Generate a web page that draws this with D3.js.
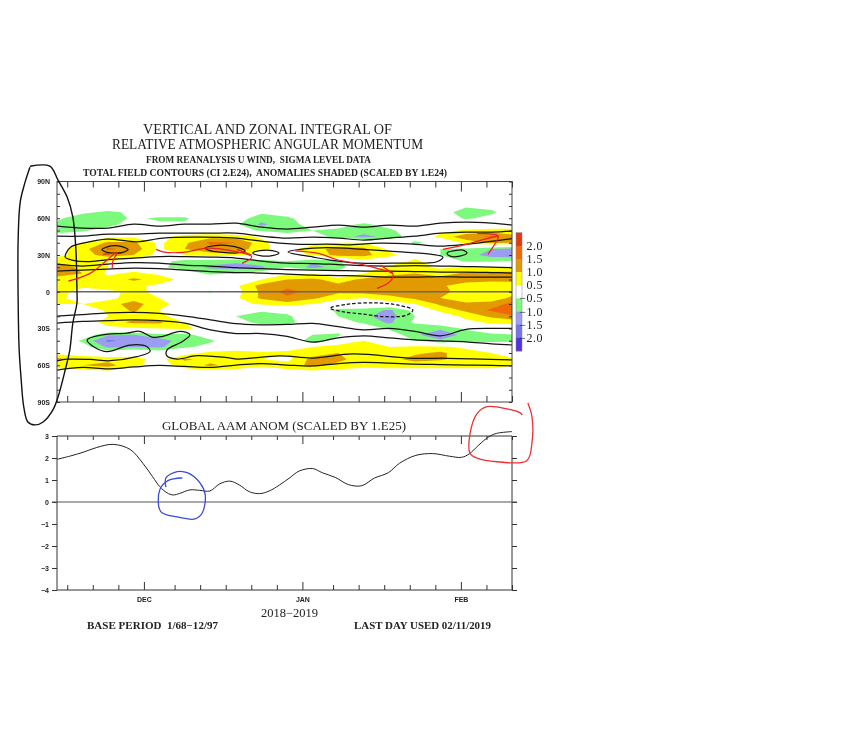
<!DOCTYPE html>
<html><head><meta charset="utf-8">
<script src="https://cdn.jsdelivr.net/npm/d3@7"></script>
<style>html,body{margin:0;background:#fff}svg{display:block;filter:blur(.35px)}
text{fill:#222}</style></head><body><svg id="c" width="864" height="750"></svg>
<script>
// ---------- data ----------
const startDate = "Nov 14 2018"; // day 0; the axis runs for 89 days
const minorDays = [2,7,12,23,28,33,38,43,54,59,64,69,74,84,89];
const majorDays = [17,48,79];
const monthLabels = ["DEC","JAN","FEB"];
const latMinor = [80,70,50,40,20,10,-10,-20,-40,-50,-70,-80];
const latMajor = [90,60,30,0,-30,-60,-90];
const latLabels = ["90N","60N","30N","0","30S","60S","90S"];
const aamTicks = [3,2,1,0,-1,-2,-3,-4];
const aamDays = [0,2.6,5.1,7.8,11,14.3,16.8,18.7,20.1,21.5,22.7,24,26,27.9,29.9,31.8,33.8,35.7,37.6,39.6,41.5,43.5,45.4,47.4,50,51.9,54.5,57,59.6,62.1,64.8,67,70.2,73.5,76.8,79.1,80.6,82.5,84.5,86,89];
const aamValues = [1.94,2.09,2.26,2.48,2.62,2.39,1.76,1.15,0.70,0.42,0.32,0.39,0.55,0.53,0.50,0.82,0.95,0.77,0.47,0.38,0.50,0.77,1.08,1.41,1.52,1.33,1.11,0.79,0.74,1.09,1.33,1.76,2.12,2.20,2.08,2.03,2.18,2.59,2.97,3.12,3.20];

// anomalies in tenths of 1.E24; rows every 5 deg from 70N to 70S, columns every 5 days from day 0 to day 90
const anomLatStart = 70, anomLatStep = 5, anomDayStep = 5;
const anomRows = [
[0,0,0,0,0,0,0,0,0,0,0,0,0,0,0,0,-4,-3,0],
[-1,-4,-6,-4,0,0,0,0,-4,-2,0,0,0,0,0,-2,-8,-6,-1],
[-4,-8,-8,-4,-6,-6,0,-2,-8,-6,-2,0,0,0,0,0,-6,-3,0],
[-6,-8,-7,-2,-4,-4,-1,-4,-11,-7,-3,-3,-6,-3,0,0,0,0,0],
[-7,-6,-2,0,0,0,0,-2,-6,-7,-5,-6,-7,-6,-2,3,6,7,7],
[-2,1,4,4,3,7,8,8,4,-2,-2,-7,-12,-8,-2,7,13,16,11],
[1,5,11,11,4,9,16,15,7,0,3,5,5,0,-6,-3,7,11,10],
[3,8,16,13,4,10,13,14,6,3,8,12,11,4,-3,-5,-6,-10,-12],
[3,8,12,10,3,5,8,7,2,1,6,12,12,6,3,-5,-8,-12,-14],
[9,8,5,2,-3,-7,-8,-9,-7,-5,-9,-6,3,2,6,2,-6,-6,-4],
[12,9,5,2,-4,-7,-11,-12,-11,-5,-12,-8,2,6,7,4,6,5,4],
[13,10,4,6,4,-2,-6,-5,-2,4,5,-2,5,9,10,8,11,12,12],
[7,8,7,11,8,3,0,1,5,10,11,8,11,12,15,12,13,12,12],
[7,6,7,6,4,0,0,4,12,13,13,11,12,12,12,11,7,6,7],
[7,3,4,6,4,-1,-6,3,11,17,13,11,12,13,13,12,7,8,9],
[7,1,3,8,5,1,0,4,11,14,11,7,5,8,11,10,7,7,12],
[5,5,8,12,7,2,0,3,6,8,5,0,1,2,5,11,11,12,18],
[0,1,6,11,5,0,0,-3,-4,-3,-1,-6,-7,-11,-3,7,11,16,20],
[0,2,5,8,6,3,0,-5,-8,-6,-1,-5,-9,-12,-5,0,7,11,15],
[0,0,8,11,11,5,1,-2,-7,-7,-1,-2,-6,-11,-4,-1,3,6,7],
[0,0,3,4,5,6,3,0,0,0,-1,0,-1,-6,-9,-9,-4,0,1],
[-2,-1,-9,-10,-6,-7,-1,4,1,-1,-5,-6,2,-1,-9,-14,-8,-6,-5],
[0,-6,-16,-13,-13,-7,-6,0,0,0,-8,-2,5,2,-5,-9,-7,-7,-6],
[0,-2,-11,-10,-11,-6,-3,0,0,3,5,9,7,5,6,6,4,2,0],
[3,3,-1,2,-1,2,7,8,6,6,7,10,7,9,9,11,7,5,4],
[12,7,8,7,3,11,8,6,5,3,12,11,8,8,12,11,7,10,5],
[7,10,12,6,3,7,11,8,6,8,11,9,7,7,7,6,6,7,5],
[3,3,4,2,2,3,3,3,2,3,4,3,2,3,3,4,4,3,2],
[0,0,0,0,0,0,0,0,0,0,0,0,0,0,0,0,0,0,0]
];
const posLevels = [0.5,1,1.5,2];
const posColors = ["#ffff00","#e19a00","#ef6a05","#e23a10"];
const negColors = ["#7dfa7d","#9c9cf0","#7474ee","#5232e2"];
const legendColors = ["#e23a10","#ef6a05","#e19a00","#ffff00","#ffffff","#7dfa7d","#9c9cf0","#7474ee","#5232e2"];
const legendLabels = ["2.0","1.5","1.0","0.5","\u22120.5","\u22121.0","\u22121.5","\u22122.0"];

// total-field contours: latitude sampled every 5 days (last sample on day 89)
const lineDays = [0,5,10,15,20,25,30,35,40,45,50,55,60,65,70,75,80,85,89];
const lineN1 = [53.6,52,52,55.2,53.6,55.2,55.2,56,52.8,51.2,52.8,54.4,52.8,54.4,53.6,56,56.9,56,54.4];
const lineN2 = [45.4,45.4,47,47,47.8,47.8,47.8,47.8,45.4,43.8,44.6,43.8,42.2,43.8,45.4,47.8,48.7,48.7,49.5];
const lineG2 = [22.6,21,22.6,23.8,23.4,21.8,21,19.7,18.9,18.1,17.7,17.3,16.9,16.9,16.5,16.1,16.1,15.7,15.3];
const lineG3 = [16.9,17.7,18.5,19.3,18.9,17.7,16.5,15.7,15.3,14.4,13.6,13.2,12.8,12,12,12.4,12,12,12];
const lineS1 = [-19.9,-18.6,-17.2,-16.8,-17.7,-19.9,-22.9,-26.1,-27,-26.7,-25.8,-28.5,-31.1,-29.9,-32.3,-36,-30.7,-29.9,-29.9];
const lineS2 = [-25.6,-24.2,-23.6,-23,-23.6,-25.6,-31.2,-34.1,-34.1,-36.4,-41.1,-37.6,-36,-37.6,-39.3,-40.1,-40.9,-42.5,-43.3];
const lineS4 = [-63.9,-61.8,-63,-61.4,-60.2,-61,-61.7,-59.8,-58.6,-59.8,-60.6,-58.6,-57.7,-58.2,-59,-59.4,-59.8,-60.2,-60.6];
// contours that fold back: [day, lat]
const pathU = [[89,43.4],[80.2,38.9],[74.9,37.3],[69.6,38.9],[63.2,39.7],[56.7,38.3],[52.8,38.9],[47.5,38.7],[41.1,40.8],[34.4,44],[26.6,44.6],[20.7,43.8],[15.6,40.8],[9.8,43],[5.1,39.7],[2.7,36.5],[1.6,28.3],[2.9,25.9],[5.9,24.5],[10,26.3],[15,27.5],[20,28.7],[25,28.7],[30,28.3],[35,27.5],[40,25],[45,23.4],[50,23],[55,22.2],[60,21.4],[65,21],[70,21.4],[75,21],[80,20.6],[85,20.1],[89,19.7]];
const pathS3 = [[0,-56.5],[2,-55.1],[6.5,-55.3],[10.4,-56.3],[15.6,-53],[18.2,-48.9],[17.6,-44.9],[14.3,-43.5],[9.8,-48.9],[7.4,-45.5],[5.9,-39.4],[8.4,-35.6],[13.7,-33.7],[16.2,-32.3],[18.8,-37.2],[20.7,-36.4],[24.1,-32.3],[26,-35.1],[24.6,-40.5],[21.5,-47.6],[21.5,-52.4],[23.5,-54.9],[27.4,-52.2],[33.3,-53.8],[35.4,-54.9],[43.6,-52.4],[50.1,-54.1],[57.9,-50.8],[69.6,-54.3],[76.3,-54.3],[89,-55.7]];
const loopA = [[8.8,34.4],[10,36.9],[11.3,37.7],[12.7,36.9],[13.9,34.4],[12.7,32],[11.3,31.6],[10,32]];
const loopB = [[29,35.6],[30.9,37.7],[33.5,37.7],[35.8,35.6],[36.8,33.2],[34.8,31.6],[31.9,32.4],[29.9,33.6]];
const loopC = [[38.3,31.6],[39.7,33.6],[42.1,33.6],[43.4,31.6],[42.1,29.5],[39.7,29.5]];
const loopD = [[45.2,32.4],[50.1,35.6],[54.8,35.9],[59.9,34.6],[65.1,33.2],[73,30.7],[75.5,28.3],[74.3,24.5],[66.5,23.4],[59.3,23.4],[53.4,25.9],[50.1,28.3]];
const loopE = [[76.3,31.6],[77.9,33.6],[79.4,34],[80.2,31.6],[78.8,29.1],[76.9,29.1]];
const loopDashed = [[53.4,-13.5],[56.7,-10.3],[61.8,-9],[66.5,-10.8],[69.6,-14.9],[68.5,-19],[64.6,-20.4],[59.9,-18.2],[55.9,-16.3]];
// hand-drawn pen marks, in the panels' units
const penOval = [[-5.3,102.5],[-1.4,102.5],[0.2,91.1],[2,77.2],[3.1,60.9],[3.7,34],[3.9,1.4],[3.9,-9.2],[3.1,-25.5],[2.5,-47.6],[1.6,-63.9],[0.2,-85.9],[-0.8,-96.5],[-2.7,-106.3],[-4.3,-108.7],[-5.7,-106.3],[-6.5,-94],[-7,-72],[-7.4,-47.6],[-7.6,-6.8],[-7.6,42.2],[-7.2,73.2],[-6.3,88.7],[-5.3,101.7]];
const penRed = [
 [[2.2,8.7],[6.5,15],[9.8,25.9],[11.3,31.3]],
 [[10.8,19.1],[11,25.9],[11.9,31.8]],
 [[9,30.7],[11.9,31.6]],
 [[19.4,34.6],[20.7,32.6],[24.6,32.1],[29.3,35.6],[33.5,34],[38.1,28.5],[36.2,23.2]],
 [[35.2,34.6],[38.1,29.9]],
 [[46.6,33.4],[51.1,31.3],[55,25.9],[59.3,22.6],[62.6,19.1],[65.7,14.4],[65.1,8.2],[62.6,2.8]],
 [[63.2,21.8],[65.7,15]],
 [[75.5,34.6],[79.4,38.1],[84.1,43.4],[86.3,45.4]],
 [[82.2,47.6],[86.3,45.4],[86.1,42.2],[84.3,30.5]]
];
const penRing = [[91,3.95],[90.6,4.05],[88,4.23],[84.1,4.33],[82.2,4.03],[80.8,3.12],[80.8,2.21],[82.2,1.99],[86.1,1.83],[91.9,1.88],[92.9,2.68],[92.9,3.88],[92.1,4.5]];
const penBlue = [[21.3,0.68],[21.3,1.09],[23.5,1.38],[25.6,1.32],[28,0.86],[29,0.32],[28.4,-0.5],[27,-0.77],[23.5,-0.68],[20.3,-0.44],[20.1,0.55],[21.7,0.97],[24.5,1.09]];

// ---------- drawing ----------
const svg = d3.select("#c");
const L=57,R=512,T1=181.5,B1=402,T2=436,B2=590;
const x = d3.scaleLinear().domain([0,89]).range([L,R]);
const yLat = d3.scaleLinear().domain([90,-90]).range([T1,B1]);
const yA = d3.scaleLinear().domain([3,-4]).range([T2,B2]);
svg.append("defs").append("clipPath").attr("id","pl").append("rect").attr("x",L).attr("y",T1).attr("width",R-L).attr("height",B1-T1);

// shading
const nc=anomRows[0].length, nr=anomRows.length;
const flat=anomRows.flat().map(v=>v/10);
const gen=d3.contours().size([nc,nr]);
const proj=d3.geoPath(d3.geoTransform({point(gx,gy){
  this.stream.point(x((gx-.5)*anomDayStep), yLat(anomLatStart-(gy-.5)*anomLatStep));}}));
const shade=svg.append("g").attr("clip-path","url(#pl)");
posLevels.forEach((t,i)=>{
  shade.append("path").attr("d",proj(gen.thresholds([t])(flat)[0])).attr("fill",posColors[i]);
});
const neg=flat.map(v=>-v);
posLevels.forEach((t,i)=>{
  shade.append("path").attr("d",proj(gen.thresholds([t])(neg)[0])).attr("fill",negColors[i]);
});

// contours
const plot=svg.append("g").attr("clip-path","url(#pl)");
const openLine=d3.line().x(d=>x(d[0])).y(d=>yLat(d[1])).curve(d3.curveCatmullRom.alpha(.5));
const closedLine=d3.line().x(d=>x(d[0])).y(d=>yLat(d[1])).curve(d3.curveCatmullRomClosed.alpha(.5));
[lineN1,lineN2,lineG2,lineG3,lineS1,lineS2,lineS4].forEach(l=>{
  plot.append("path").attr("d",openLine(l.map((v,i)=>[lineDays[i],v]))).attr("fill","none").attr("stroke","#151515").attr("stroke-width",1.25);
});
[pathU,pathS3].forEach(l=>plot.append("path").attr("d",openLine(l)).attr("fill","none").attr("stroke","#151515").attr("stroke-width",1.25));
[loopA,loopB,loopC,loopD,loopE].forEach(l=>plot.append("path").attr("d",closedLine(l)).attr("fill","none").attr("stroke","#151515").attr("stroke-width",1.25));
plot.append("path").attr("d",closedLine(loopDashed)).attr("fill","none").attr("stroke","#151515").attr("stroke-width",1.25).attr("stroke-dasharray","3.5,2");
plot.append("line").attr("x1",L).attr("x2",R).attr("y1",yLat(0)).attr("y2",yLat(0)).attr("stroke","#666").attr("stroke-width",1.6);

// axes helper
function strip(g){g.selectAll(".domain").remove();g.selectAll("line").attr("stroke","#333");g.selectAll("text").attr("font-family","Liberation Sans").attr("font-weight","700").attr("font-size",7);}
function ax(gen,tx,ty){const g=svg.append("g").attr("transform",`translate(${tx},${ty})`).call(gen);strip(g);return g;}
// frames
svg.append("rect").attr("x",L).attr("y",T1).attr("width",R-L).attr("height",B1-T1).attr("fill","none").attr("stroke","#444").attr("stroke-width",1);
svg.append("path").attr("d",`M${L},${T2}V${B2}M${R},${T2}V${B2}`).attr("stroke","#333").attr("fill","none");
// top panel ticks
ax(d3.axisBottom(x).tickValues(minorDays).tickSize(6).tickFormat(""),0,T1);
ax(d3.axisBottom(x).tickValues(majorDays).tickSize(10).tickFormat(""),0,T1);
ax(d3.axisTop(x).tickValues(minorDays).tickSize(6).tickFormat(""),0,B1);
ax(d3.axisTop(x).tickValues(majorDays).tickSize(10).tickFormat(""),0,B1);
ax(d3.axisRight(yLat).tickValues(latMinor.concat(latMajor)).tickSize(3).tickFormat(""),L,0);
ax(d3.axisLeft(yLat).tickValues(latMinor.concat(latMajor)).tickSize(3).tickFormat(""),R,0);
ax(d3.axisLeft(yLat).tickValues(latMajor).tickSize(0).tickPadding(7).tickFormat((d,i)=>latLabels[i]),L,0);
// lower panel
ax(d3.axisBottom(x).tickValues(minorDays).tickSize(4).tickFormat(""),0,T2);
ax(d3.axisBottom(x).tickValues(majorDays).tickSize(8).tickFormat(""),0,T2);
ax(d3.axisTop(x).tickValues(minorDays).tickSize(5).tickFormat(""),0,B2);
ax(d3.axisTop(x).tickValues(majorDays).tickSize(8).tickFormat(""),0,B2);
ax(d3.axisLeft(yA).tickValues(aamTicks).tickSize(5).tickPadding(3).tickFormat(d=>d<0?"\u2212"+(-d):d),L,0);
ax(d3.axisRight(yA).tickValues(aamTicks).tickSize(5).tickFormat(""),R,0);
ax(d3.axisBottom(x).tickValues(majorDays).tickSize(0).tickPadding(7).tickFormat((d,i)=>monthLabels[i]),0,B2);
// top and bottom rules of the lower panel plus zero line
[3,-4].forEach(v=>svg.append("line").attr("x1",L).attr("x2",R).attr("y1",yA(v)).attr("y2",yA(v)).attr("stroke","#333"));
svg.append("line").attr("x1",L-5).attr("x2",R+5).attr("y1",yA(0)).attr("y2",yA(0)).attr("stroke","#555").attr("stroke-width",1.2);
const aamLine=d3.line().x(d=>x(d[0])).y(d=>yA(d[1])).curve(d3.curveCatmullRom.alpha(.5));
svg.append("path").attr("d",aamLine(aamDays.map((d,i)=>[d,aamValues[i]]))).attr("fill","none").attr("stroke","#222").attr("stroke-width",1);

// pen marks
const penLat=d3.line().x(d=>x(d[0])).y(d=>yLat(d[1])).curve(d3.curveCatmullRom);
const penA=d3.line().x(d=>x(d[0])).y(d=>yA(d[1])).curve(d3.curveCatmullRom);
svg.append("path").attr("d",penLat(penOval)).attr("fill","none").attr("stroke","#111").attr("stroke-width",1.4);
penRed.forEach(l=>svg.append("path").attr("d",penLat(l)).attr("fill","none").attr("stroke","#f01c24").attr("stroke-width",1.2));
svg.append("path").attr("d",penA(penRing)).attr("fill","none").attr("stroke","#ee3030").attr("stroke-width",1.3);
svg.append("path").attr("d",penA(penBlue)).attr("fill","none").attr("stroke","#3a4cd8").attr("stroke-width",1.3);

// legend
const legY=d3.scaleBand().domain(legendColors.map((c,i)=>i)).range([232.7,351]);
svg.append("g").selectAll("rect").data(legendColors).join("rect").attr("x",516).attr("width",6).attr("y",(d,i)=>legY(i)).attr("height",legY.bandwidth()+.3).attr("fill",d=>d);
svg.append("rect").attr("x",516).attr("width",6).attr("y",232.7).attr("height",118.3).attr("fill","none").attr("stroke","#888").attr("stroke-width",.5);
const txt=(s,x0,x1,y,size,extra)=>{const t=svg.append("text").attr("x",x0).attr("y",y).attr("font-family","Liberation Serif").attr("font-size",size).attr("textLength",x1-x0).attr("lengthAdjust","spacingAndGlyphs").attr("xml:space","preserve").text(s);if(extra)t.attr("font-weight",extra);return t;};
legendLabels.forEach((s,i)=>{
  svg.append("text").attr("x",543).attr("y",legY(i+1)+4).attr("text-anchor","end").attr("font-family","Liberation Serif").attr("font-size",12).attr("letter-spacing",.5).text(s);
});
// titles
txt("VERTICAL AND ZONAL INTEGRAL OF",143,392,134,15);
txt("RELATIVE ATMOSPHERIC ANGULAR MOMENTUM",112,423,149,15);
txt("FROM REANALYSIS U WIND,  SIGMA LEVEL DATA",146,371,163,10.5,600);
txt("TOTAL FIELD CONTOURS (CI 2.E24),  ANOMALIES SHADED (SCALED BY 1.E24)",83,447,176,10.5,600);
txt("GLOBAL AAM ANOM (SCALED BY 1.E25)",162,406,430,13);
txt("2018\u22122019",261,318,617,12);
txt("BASE PERIOD  1/68\u221212/97",87,218,629,10.5,600);
txt("LAST DAY USED 02/11/2019",354,491,629,10.5,600);
</script></body></html>
